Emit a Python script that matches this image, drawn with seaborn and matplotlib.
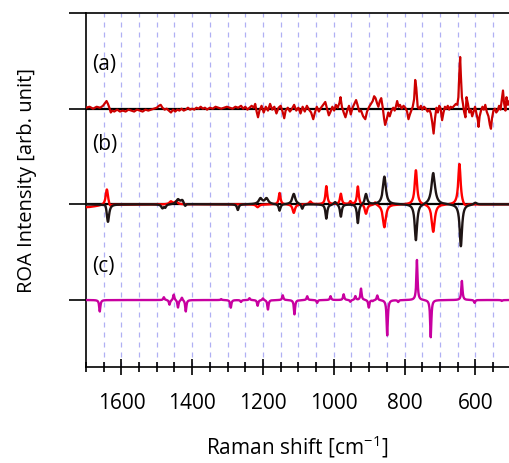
import numpy as np
import pandas as pd
import matplotlib
matplotlib.use("Agg")
import matplotlib.pyplot as plt
import seaborn as sns

# --- data ---
# (a) measured ROA spectrum (wavenumber, intensity)
exp_wn = [1700, 1690, 1680, 1670, 1660, 1652, 1646, 1642, 1638, 1634, 1630, 1626, 1620, 1612,
          1604, 1596, 1588, 1580, 1572, 1564, 1556, 1548, 1540, 1532, 1524, 1516, 1508, 1500,
          1494, 1489, 1484, 1478, 1472, 1466, 1460, 1454, 1448, 1442, 1436, 1430, 1424, 1418,
          1412, 1406, 1400, 1394, 1388, 1382, 1376, 1370, 1364, 1358, 1350, 1342, 1334, 1326,
          1318, 1310, 1302, 1294, 1286, 1278, 1270, 1262, 1256, 1250, 1244, 1238, 1232, 1226,
          1222, 1218, 1214, 1210, 1204, 1198, 1192, 1186, 1180, 1174, 1168, 1162, 1156, 1150,
          1144, 1140, 1136, 1130, 1124, 1118, 1112, 1106, 1100, 1094, 1088, 1082, 1076, 1070,
          1064, 1058, 1054, 1048, 1042, 1036, 1030, 1024, 1019, 1014, 1009, 1004, 999, 994,
          989, 984, 981, 977, 972, 967, 962, 957, 952, 947, 942, 937, 933, 928, 923, 917, 911,
          906, 900, 895, 890, 886, 882, 878, 874, 870, 866, 862, 858, 855, 851, 846, 842, 837,
          832, 828, 824, 821, 817, 813, 808, 803, 798, 793, 789, 785, 781, 777, 773, 770, 767,
          763, 759, 754, 750, 745, 740, 735, 730, 726, 722, 718, 714, 710, 706, 702, 698, 694,
          690, 686, 682, 678, 674, 670, 665, 660, 655, 651, 648, 645, 643, 641, 638, 635, 632,
          628, 625, 621, 617, 613, 609, 605, 601, 597, 593, 591, 588, 584, 580, 576, 572, 568,
          563, 559, 556, 553, 549, 545, 541, 537, 533, 529, 526, 522, 519, 515, 512, 508, 504, 500]
exp_roa = [1, 2, 0, 2, 1, 3, 6, 8, 5, 1, -4, -2, -3, -1,
           -3, -2, -3, -1, -2, -3, -1, -2, -3, -1, -2, -1, 0, 1,
           3, 4, 1, -1, 0, -2, -4, -1, -3, -1, -2, 0, -2, -1,
           1, -1, 0, -1, 1, 0, 2, 0, 1, -1, 1, 0, 2, 1,
           0, 1, 2, 1, 0, 2, 1, 3, 0, 2, -1, 1, 3, 1,
           5, -3, -9, -2, 3, -4, 2, -2, 5, -1, 2, -5, 1, 3,
           -4, -10, -2, 1, -3, 0, 4, -2, 1, -5, 2, -3, 3, -1,
           -4, -11, -5, 2, -3, 1, 4, 7, 0, -7, -3, 2, -2, 4,
           1, 6, 12, 2, -4, -9, -2, 3, -6, 1, 5, 9, 4, -3, -2, -8, -11,
           -3, 2, 5, 8, 13, 11, 6, 2, 8, 11, 2, -10, -17, -12, -4, -8, -2,
           1, -2, 3, 8, 2, 4, 0, 3, 1, -3, -11, -6, -2, 2, 10, 30, 22,
           2, 0, 3, -1, 2, 0, -3, -1, -5, -14, -26, -10, 1, -4, 3, 0, -12,
           -4, 2, 0, 3, -1, 2, 1, 3, 5, 4, 12, 40, 54, 35, 12, 5, -3,
           -9, 12, 5, -4, -1, -8, -3, 2, -5, -12, -19, -8, -2, 2, -1, 4, -3,
           -8, -17, -21, -10, -2, 0, -4, -2, 3, -1, 8, 19, 6, -2, 12, 4, 8, 3]

# (b) calculated spectra: band position, height, half width
red_pos = [1700, 1641, 1632, 1460, 1445, 1215, 1153, 1113, 1066, 1021, 980, 953, 932, 909,
           883, 857, 768, 719, 645, 630]
red_amp = [-3, 17, -3, 3, 3, -3, 12, -9, 3, 19, 11, 3, 19, -10, 3, -24, 36, -29, 43, -3]
red_hw = [40, 4, 4, 5, 5, 5, 3, 4, 4, 3, 3, 3, 3, 4, 3, 5, 4, 5, 4, 8]

blk_pos = [1645, 1638, 1484, 1476, 1440, 1428, 1420, 1271, 1207, 1190, 1153, 1113, 1089,
           1021, 996, 980, 932, 909, 857, 768, 719, 641, 600]
blk_amp = [3, -19, -4, -3, 5, 4, -3, -6, 6, 6, -7, 11, -5, -15, 3, -13, -20, 11, 29, -38,
           33, -44, 2]
blk_hw = [4, 4, 4, 3, 6, 5, 3, 3, 6, 6, 3, 5, 3, 3, 4, 3, 3, 4, 5, 4, 6, 4, 5]

# (c) calculated spectrum
mag_pos = [1661, 1480, 1464, 1452, 1440, 1429, 1418, 1318, 1291, 1262, 1238, 1215, 1200,
           1186, 1144, 1111, 1075, 1047, 1009, 972, 953, 939, 923, 901, 890, 877, 849, 818,
           765, 726, 638, 602, 525]
mag_amp = [-12, 3, -5, 6, -8, 3, -12, 1, -8, -2, 2, -6, 2, -10, 5, -15, 4, -3, 4, 6, -2,
           4, 12, -8, -1, 5, -37, -2, 42, -39, 20, -3, -1]
mag_hw = [2] * len(mag_pos)

offsets = {"a": 200, "b": 100, "c": 0}


def lorentz_sum(grid, pos, amp, hw):
    out = np.zeros_like(grid)
    for p, a, w in zip(pos, amp, hw):
        out += a * w ** 2 / ((grid - p) ** 2 + w ** 2)
    return out


grid = np.arange(500, 1700.5, 0.5)
df_a = pd.DataFrame({"wn": exp_wn, "roa": np.array(exp_roa) + offsets["a"]})
df_red = pd.DataFrame({"wn": grid, "roa": lorentz_sum(grid, red_pos, red_amp, red_hw) + offsets["b"]})
df_blk = pd.DataFrame({"wn": grid, "roa": lorentz_sum(grid, blk_pos, blk_amp, blk_hw) + offsets["b"]})
df_c = pd.DataFrame({"wn": grid, "roa": lorentz_sum(grid, mag_pos, mag_amp, mag_hw) + offsets["c"]})

# --- plot ---
sns.set_theme(style="ticks")
plt.rcParams["font.family"] = ["Open Sans", "DejaVu Sans"]
plt.rcParams["mathtext.fontset"] = "custom"
plt.rcParams["mathtext.rm"] = "Open Sans"
plt.rcParams["text.color"] = "black"
plt.rcParams["axes.labelcolor"] = "black"
plt.rcParams["xtick.color"] = "black"
plt.rcParams["ytick.color"] = "black"

fig = plt.figure(figsize=(5.09, 4.64), dpi=100)
ax = fig.add_axes([86 / 509, 1 - 368 / 464, 423 / 509, 354 / 464])

for v in range(550, 1700, 50):
    ax.axvline(v, color="#b0b0f4", lw=0.9, dashes=(4, 4), zorder=0)
ax.axhline(offsets["a"], color="black", lw=1.6, zorder=1)
ax.axhline(offsets["b"], color="black", lw=1.6, zorder=1)

sns.lineplot(data=df_a, x="wn", y="roa", color="#cc0000", lw=1.6, ax=ax, zorder=3)
sns.lineplot(data=df_red, x="wn", y="roa", color="#ff0000", lw=1.7, ax=ax, zorder=3)
sns.lineplot(data=df_blk, x="wn", y="roa", color="#1e1414", lw=1.7, ax=ax, zorder=4)
sns.lineplot(data=df_c, x="wn", y="roa", color="#c800a0", lw=1.7, ax=ax, zorder=3)

ax.text(1684, 247, "(a)", fontsize=15, va="center")
ax.text(1684, 164, "(b)", fontsize=15, va="center")
ax.text(1684, 36, "(c)", fontsize=15, va="center")

ax.set_xlim(1700, 505)
ax.set_ylim(-70, 300)
ax.set_xticks(range(600, 1700, 200))
ax.set_xticks(range(550, 1701, 50), minor=True)
ax.set_yticks([0, 100, 200, 300])
ax.set_yticklabels([])
ax.tick_params(axis="x", which="major", direction="inout", length=12, width=1.2,
               labelsize=15, pad=12)
ax.tick_params(axis="x", which="minor", direction="inout", length=7, width=1.2)
ax.tick_params(axis="y", direction="out", length=12, width=1.2)
ax.spines["right"].set_visible(False)
for s in ["left", "top", "bottom"]:
    ax.spines[s].set_linewidth(1.2)
    ax.spines[s].set_color("black")

ax.set_xlabel("Raman shift [cm$^{-1}$]", fontsize=15, labelpad=14)
ax.set_ylabel("ROA Intensity [arb. unit]", fontsize=14.5)
ax.yaxis.set_label_coords(-0.115, 0.53)

fig.savefig("out.png", dpi=100)
